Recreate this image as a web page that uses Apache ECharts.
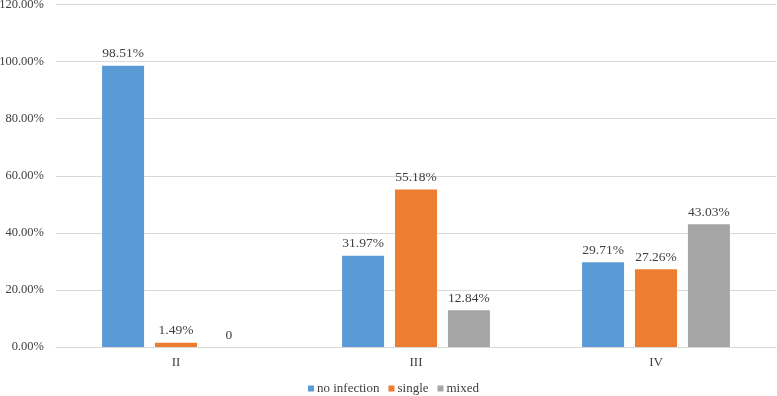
<!DOCTYPE html>
<html>
<head>
<meta charset="utf-8">
<script src="https://cdn.jsdelivr.net/npm/echarts@6/dist/echarts.min.js"></script>
<style>
  html, body { margin: 0; padding: 0; background: #fff; }
  #chart { width: 777px; height: 396px; }
</style>
</head>
<body>
<div id="chart"></div>
<script>
// stages on the x axis
var stages = ["II", "III", "IV"];
var noInfection = [98.51, 31.97, 29.71];
var single = [1.49, 55.18, 27.26];
var mixed = [0, 12.84, 43.03];

var font = "'Liberation Serif', 'Times New Roman', serif";

function pctLabel(p) {
  return p.value === 0 ? "0" : p.value.toFixed(2) + "%";
}

function barSeries(name, data, color) {
  return {
    name: name,
    type: "bar",
    data: data,
    barWidth: 42,
    barGap: "26%",
    itemStyle: { color: color },
    label: {
      show: true,
      position: "top",
      distance: 5,
      formatter: pctLabel,
      color: "#404040",
      fontFamily: font,
      fontSize: 13.5
    }
  };
}

var chart = echarts.init(document.getElementById("chart"));
chart.setOption({
  animation: false,
  grid: { left: 56, right: 1, top: 4.5, bottom: 49, outerBoundsMode: "none", containLabel: false },
  legend: {
    top: 377,
    left: 303,
    itemWidth: 6,
    itemHeight: 6,
    itemGap: 9,
    icon: "rect",
    textStyle: { fontFamily: font, fontSize: 13, color: "#404040", padding: [0, 0, 0, -2] },
    data: ["no infection", "single", "mixed"]
  },
  xAxis: {
    type: "category",
    data: stages,
    axisTick: { show: false },
    axisLine: { lineStyle: { color: "#d9d9d9" } },
    axisLabel: { margin: 9, fontFamily: font, fontSize: 13, color: "#404040" }
  },
  yAxis: {
    type: "value",
    min: 0,
    max: 120,
    interval: 20,
    axisLabel: {
      margin: 12,
      fontFamily: font,
      fontSize: 12.5,
      color: "#404040",
      formatter: function (v) { return v.toFixed(2) + "%"; }
    },
    splitLine: { lineStyle: { color: "#d9d9d9" } }
  },
  series: [
    barSeries("no infection", noInfection, "#5b9bd5"),
    barSeries("single", single, "#ed7d31"),
    barSeries("mixed", mixed, "#a5a5a5")
  ]
});
</script>
</body>
</html>
